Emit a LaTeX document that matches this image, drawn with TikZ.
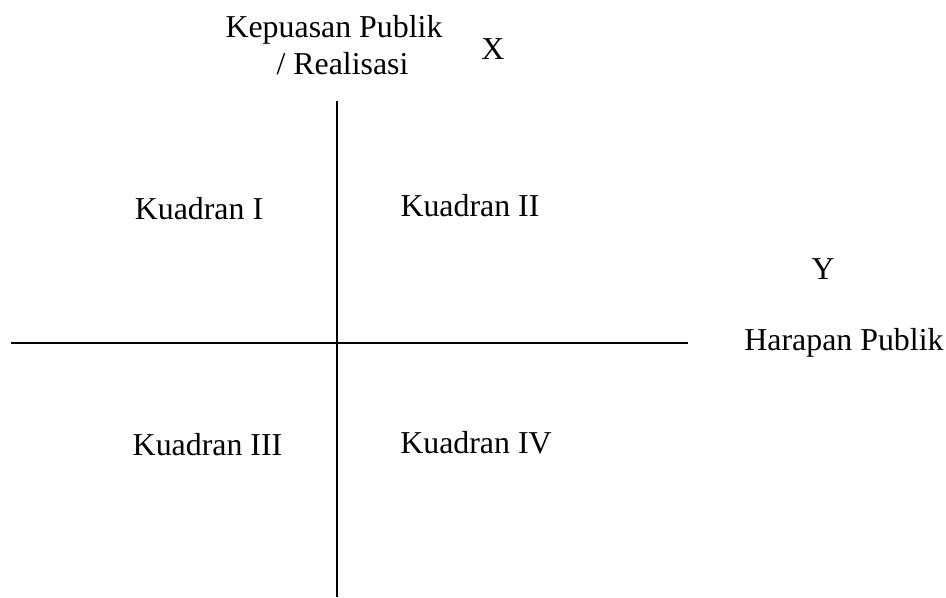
\documentclass[tikz,border=0pt]{standalone}
\usepackage{fontspec}
\setmainfont{Liberation Serif}
\begin{document}
\begin{tikzpicture}[x=0.75pt,y=-0.75pt,
  lbl/.style={anchor=base,inner sep=0pt,font=\fontsize{23.9}{28}\selectfont},
  axis/.style={line width=1.5pt,black}]
\useasboundingbox (0,0) rectangle (946,597);
\coordinate (vtop) at (337,101);
\coordinate (vbot) at (337,597);
\coordinate (hleft) at (11,343);
\coordinate (hright) at (688,343);
\draw[axis] (vtop) -- (vbot);
\draw[axis] (hleft) -- (hright);
\node[lbl] (kep1) at (334,37) {Kepuasan Publik};
\node[lbl] (kep2) at (342.5,74) {/ Realisasi};
\node[lbl] (xl) at (493,59) {X};
\node[lbl] (yl) at (823,279) {Y};
\node[lbl] (har) at (844,350) {Harapan Publik};
\node[lbl] (q1) at (199,219) {Kuadran I};
\node[lbl] (q2) at (470,216) {Kuadran II};
\node[lbl] (q3) at (207.5,455) {Kuadran III};
\node[lbl] (q4) at (476,453) {Kuadran IV};
\end{tikzpicture}
\end{document}
